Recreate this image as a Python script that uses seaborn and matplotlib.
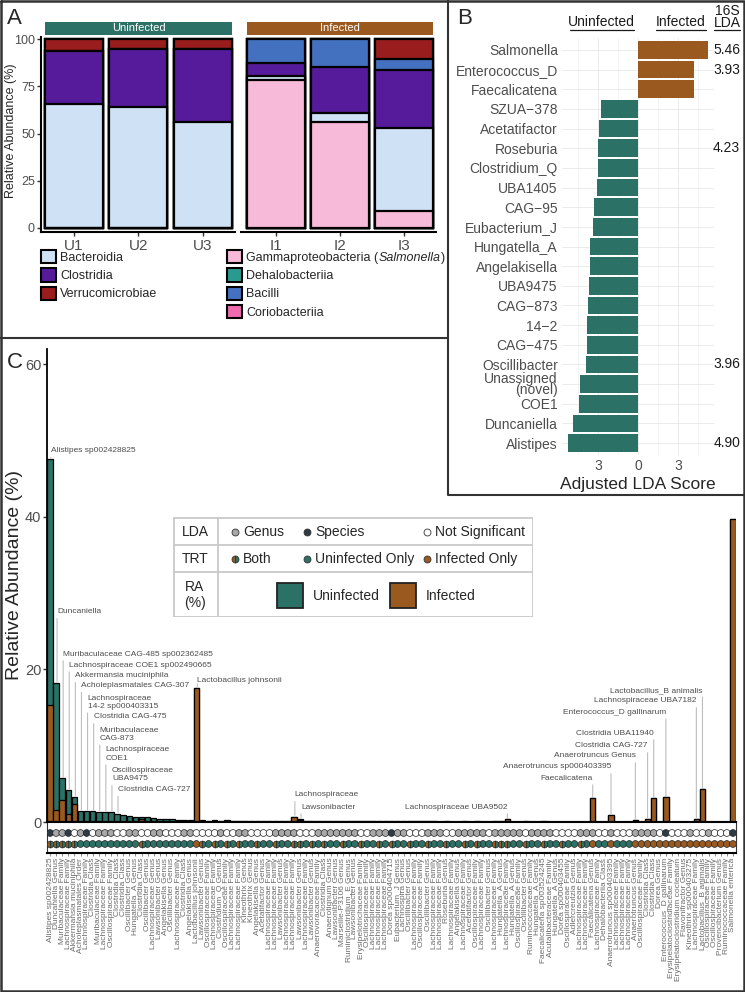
import numpy as np
import pandas as pd
import matplotlib
matplotlib.use("Agg")
import matplotlib.pyplot as plt
import seaborn as sns
from matplotlib.patches import Patch, Rectangle
from matplotlib.lines import Line2D

sns.set_theme(style="white")
plt.rcParams['font.family'] = ['Liberation Sans', 'DejaVu Sans']

TEAL = '#2B7166'
BROWN = '#99591F'

# ---------------- panel A data: class-level relative abundance (%) ----------------
samples_a = ['U1', 'U2', 'U3', 'I1', 'I2', 'I3']
groups_a = ['Uninfected'] * 3 + ['Infected'] * 3
gammaproteobacteria = [0, 0, 0, 78.4, 55.9, 8.8]
bacteroidia = [65.5, 64.1, 56.1, 2.1, 4.8, 44.1]
clostridia = [28.3, 30.9, 38.9, 6.8, 24.4, 30.8]
bacilli = [0, 0, 0, 12.7, 14.9, 5.7]
verrucomicrobiae = [6.2, 5.0, 5.0, 0, 0, 10.6]
dehalobacteriia = [0, 0, 0, 0, 0, 0]
coriobacteriia = [0, 0, 0, 0, 0, 0]

class_colors = {
    'Gammaproteobacteria': '#F7BAD8',
    'Bacteroidia': '#CFE2F5',
    'Clostridia': '#561B9B',
    'Bacilli': '#4470C0',
    'Verrucomicrobiae': '#9A1D1D',
    'Dehalobacteriia': '#2A9A90',
    'Coriobacteriia': '#EE6BAE',
}
stack_order = ['Gammaproteobacteria', 'Bacteroidia', 'Clostridia', 'Bacilli',
               'Verrucomicrobiae', 'Dehalobacteriia', 'Coriobacteriia']

# ---------------- panel B data: LEfSe genera ----------------
genera_b = ['Salmonella', 'Enterococcus_D', 'Faecalicatena', 'SZUA\u2212378', 'Acetatifactor',
            'Roseburia', 'Clostridium_Q', 'UBA1405', 'CAG\u221295', 'Eubacterium_J',
            'Hungatella_A', 'Angelakisella', 'UBA9475', 'CAG\u2212873', '14\u22122',
            'CAG\u2212475', 'Oscillibacter', 'Unassigned\n(novel)', 'COE1', 'Duncaniella',
            'Alistipes']
lda_b = [5.26, 4.2, 4.17, 2.75, 2.93, 2.97, 2.97, 3.05, 3.27, 3.37, 3.57,
         3.62, 3.67, 3.72, 3.8, 3.82, 3.92, 4.37, 4.4, 4.85, 5.22]
group_b = ['Infected'] * 3 + ['Uninfected'] * 18
lda16s_b = ['5.46', '3.93', '', '', '', '4.23', '', '', '', '', '', '', '', '', '', '',
            '3.96', '', '', '', '4.90']

# ---------------- panel C data: taxa relative abundance ----------------
taxa_c = [
    'Alistipes sp002428825', 'Duncaniella Genus', 'Muribaculaceae Family', 'Lachnospiraceae Family',
    'Akkermansia muciniphila', 'Acholeplasmatales Order', 'Lachnospiraceae Family', 'Clostridia Class',
    'Muribaculaceae Family', 'Lachnospiraceae Family', 'Oscillospiraceae Family', 'Clostridia Class',
    'Clostridia Class', 'Oscillibacter Genus', 'Hungatella_A Genus', 'Clostridia Class',
    'Oscillibacter Genus', 'Lachnospiraceae Genus', 'Lawsonibacter Genus', 'Angelakisella Genus',
    'Oscillibacter Genus', 'Lachnospiraceae Family', 'Clostridia Class', 'Angelakisella Genus',
    'Lactobacillus johnsonii', 'Lawsonibacter Genus', 'Oscillospiraceae Family', 'Lachnospiraceae Family',
    'Clostridium_Q Genus', 'Oscillospiraceae Family', 'Lachnospiraceae Family', 'Lachnospiraceae Family',
    'Kineothrix Genus', 'Kineothrix Genus', 'Angelakisella Genus', 'Acetatifactor Genus',
    'Lachnospiraceae Family', 'Lachnospiraceae Family', 'Lawsonibacter Genus', 'Lachnospiraceae Family',
    'Lachnospiraceae Family', 'Lawsonibacter Genus', 'Lachnospiraceae Family', 'Lawsonibacter Genus',
    'Anaerovoracaceae Family', 'Clostridia Class', 'Anaerotignum Genus', 'Lawsonibacter Genus',
    'Marseille-P3106 Genus', 'Ruminiclostridium_E Genus', 'Lawsonibacter Genus', 'Erysipelotrichaceae Family',
    'Oscillospiraceae Family', 'Lachnospiraceae Family', 'Lachnospiraceae Family', 'Lachnospiraceae Family',
    'Dorea sp000404715', 'Eubacterium_J Genus', 'Lachnospira Genus', 'Oscillibacter Genus',
    'Lachnospiraceae Family', 'Oscillospiraceae Family', 'Oscillibacter Genus', 'Lachnospiraceae Family',
    'Lachnospiraceae Family', 'Roseburia Genus', 'Lachnospiraceae Family', 'Angelakisella Genus',
    'Lachnospiraceae Family', 'Acetatifactor Genus', 'Oscillospiraceae Family', 'Lachnospiraceae Family',
    'Oscillibacter Genus', 'Lachnospiraceae Family', 'Hungatella_A Genus', 'Lachnospiraceae Family',
    'Hungatella_A Genus', 'Oscillospiraceae Family', 'Oscillibacter Genus', 'Ruminococcaceae Family',
    'Hungatella_A Genus', 'Faecalicatena sp003524245', 'Acutalibacteraceae Family', 'Hungatella_A Genus',
    'Dorea sp000403455', 'Oscillospiraceae Family', 'Adlercreutzia Genus', 'Lachnospiraceae Family',
    'Lachnospiraceae Family', 'Faecalicatena Genus', 'Lachnospiraceae Family', 'Dehalobacteriia Class',
    'Anaerotruncus sp000403395', 'Lachnospiraceae Family', 'Lachnospiraceae Family', 'Lachnospiraceae Family',
    'Anaerotruncus Genus', 'Oscillospiraceae Family', 'Clostridia Class', 'Clostridia Class',
    'Dorea Genus', 'Enterococcus_D gallinarum', 'Erysipelatoclostridiaceae Family',
    'Erysipelatoclostridium cocleatum', 'Flavonifractor Genus', 'Kineothrix sp000403275',
    'Lachnospiraceae Family', 'Lactobacillus_B animalis', 'Oscillospiraceae Family',
    'Oscillospiraceae Family', 'Provencibacterium Genus', 'Ruminococcaceae Family', 'Salmonella enterica',
]
ra_uninfected = [
    32.3, 16.6, 2.8, 3.2, 1.0, 1.45, 1.4, 1.4, 1.35, 1.3,
    1.3, 1.1, 0.95, 0.8, 0.7, 0.15, 0.6, 0.5, 0.45, 0.4,
    0.35, 0.3, 0.25, 0.2, 0.0,
    0.18, 0.18, 0.17, 0.17, 0.16, 0.16, 0.15, 0.15, 0.15, 0.14,
    0.14, 0.14, 0.13, 0.13, 0.13, 0.12, 0.12, 0.12, 0.12, 0.11,
    0.11, 0.11, 0.10, 0.10, 0.10, 0.10, 0.09, 0.09, 0.09, 0.09,
    0.08, 0.08, 0.08, 0.08, 0.07, 0.07, 0.07, 0.07, 0.07, 0.06,
    0.06, 0.06, 0.06, 0.06, 0.05, 0.05, 0.05, 0.05, 0.05, 0.05,
    0.04, 0.04, 0.04, 0.04, 0.04, 0.04, 0.04, 0.03, 0.03, 0.03,
    0.03, 0.03, 0.03, 0.03, 0.0, 0.03, 0.02, 0.0, 0.02, 0.02,
    0.02, 0.0, 0, 0, 0, 0, 0, 0, 0, 0,
    0, 0, 0, 0, 0, 0, 0, 0,
]
ra_infected = [
    15.3, 1.6, 2.9, 1.0, 2.3, 0, 0, 0, 0, 0,
    0, 0, 0, 0, 0, 0.45, 0, 0, 0, 0,
    0, 0, 0, 0, 17.6,
    0.05, 0, 0.04, 0, 0.05, 0, 0.03, 0, 0, 0.04,
    0, 0, 0.04, 0, 0, 0.6, 0.3, 0, 0.03, 0,
    0.03, 0, 0, 0.04, 0, 0, 0.03, 0, 0, 0.03,
    0, 0.05, 0, 0, 0.03, 0, 0, 0.03, 0, 0,
    0.03, 0, 0, 0.03, 0, 0.03, 0, 0, 0.03, 0.03,
    0.35, 0, 0, 0.03, 0, 0, 0.03, 0, 0, 0.03,
    0, 0, 0.03, 0, 3.1, 0, 0, 0.9, 0, 0,
    0, 0.25, 0.05, 0.4, 3.1, 0.05, 3.3, 0.05, 0.05, 0.05,
    0.05, 0.4, 4.3, 0.05, 0.05, 0.05, 0.05, 39.7,
]
# LDA significance per taxon: G = genus, S = species, N = not significant
lda_code = ("SGGSNGSNGGGNNGGNNGGNNNGGN"
            "NNNGNNGGNNNNGGGGNNNGGGGGGGNNGGGS"
            "GGNNNGGGNNGGGGGNGGGGGNGGGGNNNNGGGNNGNNNGGGGN"
            "S" "NNNGNNGNNN" "S")

# labelled taxa in panel C: (index, text, label height, side)
labels_c = [
    (0, 'Alistipes sp002428825', 48.2, 'left'),
    (1, 'Duncaniella', 27.1, 'left'),
    (2, 'Muribaculaceae CAG-485 sp002362485', 21.55, 'left'),
    (3, 'Lachnospiraceae COE1 sp002490665', 20.1, 'left'),
    (4, 'Akkermansia muciniphila', 18.7, 'left'),
    (5, 'Acholeplasmatales CAG-307', 17.4, 'left'),
    (6, 'Lachnospiraceae\n14-2 sp000403315', 14.7, 'left'),
    (7, 'Clostridia CAG-475', 13.3, 'left'),
    (8, 'Muribaculaceae\nCAG-873', 10.5, 'left'),
    (9, 'Lachnospiraceae\nCOE1', 7.9, 'left'),
    (10, 'Oscillospiraceae\nUBA9475', 5.2, 'left'),
    (11, 'Clostridia CAG-727', 3.8, 'left'),
    (24, 'Lactobacillus johnsonii', 18.1, 'left'),
    (40, 'Lachnospiraceae', 3.1, 'left'),
    (41, 'Lawsonibacter', 1.5, 'left'),
    (75, 'Lachnospiraceae UBA9502', 1.5, 'right'),
    (89, 'Faecalicatena', 5.3, 'right'),
    (92, 'Anaerotruncus sp000403395', 6.75, 'right'),
    (96, 'Anaerotruncus Genus', 8.2, 'right'),
    (98, 'Clostridia CAG-727', 9.5, 'right'),
    (99, 'Clostridia UBA11940', 11.2, 'right'),
    (101, 'Enterococcus_D gallinarum', 13.95, 'right'),
    (106, 'Lachnospiraceae UBA7182', 15.4, 'right'),
    (107, 'Lactobacillus_B animalis', 16.8, 'right'),
    (112, 'Salmonella enterica', 40.4, 'right'),
]

# ---------------- figure & layout helpers (pixel coordinates) ----------------
W, H = 745, 992
fig = plt.figure(figsize=(W / 100, H / 100), dpi=100)


def box(x0, y0, x1, y1):
    return [x0 / W, 1 - y1 / H, (x1 - x0) / W, (y1 - y0) / H]


def fx(x):
    return x / W


def fy(y):
    return 1 - y / H


def fig_line(xs, ys, color='#333333', lw=1.5):
    fig.add_artist(Line2D([fx(x) for x in xs], [fy(y) for y in ys], color=color, lw=lw,
                          transform=fig.transFigure))


# ================= Panel A =================
dfA = pd.DataFrame({'sample': samples_a, 'group': groups_a,
                    'Gammaproteobacteria': gammaproteobacteria, 'Bacteroidia': bacteroidia,
                    'Clostridia': clostridia, 'Bacilli': bacilli,
                    'Verrucomicrobiae': verrucomicrobiae, 'Dehalobacteriia': dehalobacteriia,
                    'Coriobacteriia': coriobacteriia})
longA = dfA.melt(id_vars=['sample', 'group'], var_name='cls', value_name='ra')
longA['cls'] = pd.Categorical(longA['cls'], stack_order, ordered=True)
longA = longA.sort_values(['sample', 'cls'])
longA['top'] = longA.groupby('sample')['ra'].cumsum()

axU = fig.add_axes(box(40.5, 37.4, 235, 231.7))
axI = fig.add_axes(box(240.5, 37.4, 436, 231.7))
for grp, ax, order in [('Uninfected', axU, samples_a[:3]), ('Infected', axI, samples_a[3:])]:
    sub = longA[longA['group'] == grp]
    for cls in reversed(stack_order):
        sns.barplot(data=sub[sub['cls'] == cls], x='sample', y='top', order=order,
                    color=class_colors[cls], saturation=1, edgecolor='black', linewidth=1.6,
                    width=0.9, errorbar=None, ax=ax)
    ax.set_ylim(-2.1, 101)
    ax.set_xlabel('')
    ax.set_ylabel('')
    ax.tick_params(axis='x', length=3, width=1, color='#333333', labelsize=11,
                   labelcolor='#4D4D4D', pad=2, bottom=True)
    for s in ['top', 'right', 'left']:
        ax.spines[s].set_visible(False)
    ax.spines['bottom'].set_linewidth(1.5)
    ax.spines['bottom'].set_color('black')
    ax.patch.set_alpha(0)
axU.set_xlim(-0.52, 2.5)
axI.set_xlim(-0.55, 2.5)
axU.spines['left'].set_visible(True)
axU.spines['left'].set_linewidth(1.5)
axU.spines['left'].set_color('black')
axU.set_yticks([0, 25, 50, 75, 100])
axU.tick_params(axis='y', length=3, width=1, color='#333333', labelsize=9,
                labelcolor='#4D4D4D', pad=1, left=True)
axI.set_yticks([])
fig.text(fx(11), fy(131), 'Relative Abundance (%)', rotation=90, fontsize=9,
         ha='center', va='center')

for x0, x1, lab, col in [(45, 232, 'Uninfected', TEAL), (247, 433, 'Infected', BROWN)]:
    fig.add_artist(Rectangle((fx(x0), fy(34.5)), (x1 - x0) / W, 12.5 / H, facecolor=col,
                             edgecolor='none', transform=fig.transFigure))
    fig.text(fx((x0 + x1) / 2), fy(28.2), lab, color='white', fontsize=8, ha='center', va='center')

left_cls = ['Bacteroidia', 'Clostridia', 'Verrucomicrobiae']
right_cls = ['Gammaproteobacteria', 'Dehalobacteriia', 'Bacilli', 'Coriobacteriia']
right_lab = ['Gammaproteobacteria (Salmonella)', 'Dehalobacteriia', 'Bacilli', 'Coriobacteriia']
legs = []
for clist, labs, xa in [(left_cls, left_cls, 41), (right_cls, right_lab, 227)]:
    handles = [Patch(facecolor=class_colors[c], edgecolor='black', linewidth=1.5) for c in clist]
    legs.append(fig.legend(handles, labs, loc='upper left', bbox_to_anchor=(fx(xa), fy(250)),
                           frameon=False, fontsize=9, handlelength=1.2, handleheight=1.25,
                           labelspacing=0.36, handletextpad=0.35, borderpad=0, borderaxespad=0))
# italicise the genus name inside the first right-hand legend entry
gtxt = legs[1].get_texts()[0]
gtxt.set_text('Gammaproteobacteria (')
fig.canvas.draw()
renderer = fig.canvas.get_renderer()
bb = gtxt.get_window_extent(renderer=renderer)
ymid = (bb.y0 + bb.y1) / 2 / fig.dpi / fig.get_figheight()
t_it = fig.text(bb.x1 / fig.dpi / fig.get_figwidth(), ymid, 'Salmonella', fontsize=9,
                style='italic', ha='left', va='center')
bb2 = t_it.get_window_extent(renderer=renderer)
fig.text(bb2.x1 / fig.dpi / fig.get_figwidth(), ymid, ')', fontsize=9, ha='left', va='center')

# ================= Panel C =================
n_c = len(taxa_c)
dfC = pd.DataFrame({'pos': np.arange(n_c), 'taxon': taxa_c,
                    'uninfected': ra_uninfected, 'infected': ra_infected})
dfC['total'] = dfC['uninfected'] + dfC['infected']
dfC['lda'] = [{'G': 'Genus', 'S': 'Species', 'N': 'Not Significant'}[c] for c in lda_code]
dfC['trt'] = np.where((dfC['uninfected'] > 0) & (dfC['infected'] > 0), 'Both',
                      np.where(dfC['infected'] > 0, 'Infected Only', 'Uninfected Only'))

axC = fig.add_axes(box(47, 348.8, 736, 822))
sns.barplot(data=dfC, x='pos', y='total', color=TEAL, saturation=1, edgecolor='black',
            linewidth=0.9, width=0.9, errorbar=None, ax=axC)
sns.barplot(data=dfC, x='pos', y='infected', color=BROWN, saturation=1, edgecolor='black',
            linewidth=0.9, width=0.9, errorbar=None, ax=axC)
axC.set_xlim(-0.5, n_c - 0.5)
axC.set_ylim(0, 62)
axC.set_xticks([])
axC.set_xlabel('')
axC.set_ylabel('')
axC.set_yticks([0, 20, 40, 60])
axC.tick_params(axis='y', length=3, width=1, color='#333333', labelsize=10.5,
                labelcolor='#4D4D4D', pad=1, left=True)
for s in ['top', 'right']:
    axC.spines[s].set_visible(False)
axC.spines['left'].set_color('black')
axC.spines['left'].set_linewidth(1.3)
axC.spines['bottom'].set_color('black')
axC.spines['bottom'].set_linewidth(1.5)
axC.patch.set_alpha(0)
fig.text(fx(15), fy(575), 'Relative Abundance (%)', rotation=90, fontsize=14,
         ha='center', va='center')

for idx, text, ty, side in labels_c:
    top = dfC.loc[idx, 'total']
    xx = idx + 0.15 if side == 'left' else idx
    if idx == 112:
        xx = idx + 0.6
    axC.annotate(text, xy=(xx, top + 0.15), xytext=(xx, ty), textcoords='data',
                 ha=side, va='bottom', fontsize=6, color='#4D4D4D', linespacing=1.25,
                 arrowprops=dict(arrowstyle='-', color='#BDBDBD', lw=0.8, shrinkA=0, shrinkB=0,
                                 relpos=(0, 0) if side == 'left' else (1, 0)))

# dot rows (LDA / TRT) and taxon labels
axD = fig.add_axes(box(47, 822, 736, 853))
dfC['row_lda'] = 0
dfC['row_trt'] = 1
sns.scatterplot(data=dfC, x='pos', y='row_lda', hue='lda',
                palette={'Genus': '#A8A8A8', 'Species': '#2E3B44', 'Not Significant': 'white'},
                s=24, edgecolor='#222222', linewidth=0.5, legend=False, ax=axD, zorder=3)
single = dfC[dfC['trt'] != 'Both']
sns.scatterplot(data=single, x='pos', y='row_trt', hue='trt',
                palette={'Uninfected Only': TEAL, 'Infected Only': BROWN},
                s=24, edgecolor='#222222', linewidth=0.5, legend=False, ax=axD, zorder=3)
both = dfC[dfC['trt'] == 'Both']
axD.plot(both['pos'], both['row_trt'], 'o', ls='none', fillstyle='left', markerfacecolor=BROWN,
         markerfacecoloralt=TEAL, markeredgecolor='#222222', mew=0.5, ms=4.9, zorder=3)
axD.set_xlim(-0.5, n_c - 0.5)
axD.set_ylim(1.82, -1.0)
axD.set_yticks([])
axD.set_ylabel('')
axD.set_xlabel('')
axD.set_xticks(dfC['pos'])
axD.set_xticklabels(taxa_c, rotation=90, fontsize=6.0, color='#6B6B6B')
axD.tick_params(axis='x', length=2.5, width=0.6, color='#777777', pad=1, bottom=True)
for s in ['top', 'bottom']:
    axD.spines[s].set_color('black')
    axD.spines[s].set_linewidth(1.5)
for s in ['left', 'right']:
    axD.spines[s].set_color('#333333')
    axD.spines[s].set_linewidth(0.8)

# legend table of panel C
axL = fig.add_axes(box(173, 517, 533, 617))
axL.set_xlim(173, 533)
axL.set_ylim(617, 517)
axL.axis('off')
grid_c = '#C9C9C9'
axL.add_patch(Rectangle((173.5, 517.5), 359, 99, fill=False, edgecolor=grid_c, lw=1.3))
axL.plot([173, 533], [545, 545], color=grid_c, lw=1.3)
axL.plot([173, 533], [572, 572], color=grid_c, lw=1.3)
axL.plot([218, 218], [517, 617], color=grid_c, lw=1.3)
tfs = 10
axL.text(195, 532, 'LDA', ha='center', va='center', fontsize=tfs)
axL.text(195, 559, 'TRT', ha='center', va='center', fontsize=tfs)
axL.text(195, 595, 'RA\n(%)', ha='center', va='center', fontsize=tfs, linespacing=1.1)
for x, col, lab in [(235, '#A8A8A8', 'Genus'), (307, '#2E3B44', 'Species'),
                    (427, 'white', 'Not Significant')]:
    axL.plot([x], [532], 'o', ms=5, mfc=col, mec='#333333', mew=0.6)
    axL.text(x + 8, 532, lab, ha='left', va='center', fontsize=tfs)
axL.plot([235], [559], 'o', ms=5, fillstyle='left', mfc=BROWN, markerfacecoloralt=TEAL,
         mec='#333333', mew=0.6)
axL.text(243, 559, 'Both', ha='left', va='center', fontsize=tfs)
for x, col, lab in [(307, TEAL, 'Uninfected Only'), (427, BROWN, 'Infected Only')]:
    axL.plot([x], [559], 'o', ms=5, mfc=col, mec='#333333', mew=0.6)
    axL.text(x + 8, 559, lab, ha='left', va='center', fontsize=tfs)
for x0, col, lab in [(277, TEAL, 'Uninfected'), (390, BROWN, 'Infected')]:
    axL.add_patch(Rectangle((x0, 583), 26, 25, facecolor=col, edgecolor='#222222', lw=1.3))
    axL.text(x0 + 36, 595.5, lab, ha='left', va='center', fontsize=tfs)

# ================= Panel B =================
dfB = pd.DataFrame({'genus': genera_b, 'lda': lda_b, 'group': group_b})
dfB['score'] = np.where(dfB['group'] == 'Uninfected', -dfB['lda'], dfB['lda'])
axB = fig.add_axes(box(562, 38.2, 714, 454.8))
axB.set_axisbelow(True)
sns.barplot(data=dfB, x='score', y='genus', hue='group', order=genera_b,
            palette={'Uninfected': TEAL, 'Infected': BROWN}, dodge=False, width=0.9,
            saturation=1, linewidth=0, errorbar=None, legend=False, orient='h', ax=axB)
axB.set_xlim(-5.7, 5.7)
axB.set_ylim(20.6, -0.6)
axB.set_xticks([-3, 0, 3])
axB.set_xticklabels(['3', '0', '3'])
axB.set_xticks([-4.5, -1.5, 1.5, 4.5], minor=True)
axB.grid(True, which='major', color='#EBEBEB', lw=0.7)
axB.grid(True, which='minor', axis='x', color='#F2F2F2', lw=0.6)
for s in axB.spines.values():
    s.set_visible(False)
axB.tick_params(axis='both', which='both', length=0)
axB.tick_params(axis='y', labelsize=10, labelcolor='#4D4D4D', pad=3)
axB.tick_params(axis='x', labelsize=10, labelcolor='#4D4D4D', pad=3)
for lbl in axB.get_yticklabels():
    lbl.set_linespacing(0.8)
axB.set_xlabel('')
axB.set_ylabel('')
for i, v in enumerate(lda16s_b):
    if v:
        axB.text(7.65, i, v, ha='right', va='center', fontsize=10, color='#1A1A1A', clip_on=False)

fig.text(fx(601), fy(22), 'Uninfected', ha='center', va='center', fontsize=10, color='#1A1A1A')
fig.text(fx(681), fy(22), 'Infected', ha='center', va='center', fontsize=10, color='#1A1A1A')
fig.text(fx(727), fy(17), '16S\nLDA', ha='center', va='center', fontsize=10, color='#1A1A1A',
         linespacing=0.85)
for x0, x1 in [(570, 634), (656, 706), (714, 740)]:
    fig_line([x0, x1], [30, 30], color='#1A1A1A', lw=0.9)
fig.text(fx(638), fy(485), 'Adjusted LDA Score', ha='center', va='center', fontsize=12.5)

# ================= panel letters & borders =================
fig.text(fx(7), fy(18), 'A', fontsize=16, ha='left', va='center')
fig.text(fx(457), fy(18), 'B', fontsize=16, ha='left', va='center')
fig.text(fx(7), fy(362), 'C', fontsize=16, ha='left', va='center')

fig_line([1, 744, 744, 1, 1], [1, 1, 991, 991, 1], lw=1.8)
fig_line([0, 447], [338, 338])
fig_line([447.5, 447.5, 745], [0, 495, 495])

fig.savefig('out.png', dpi=100)
